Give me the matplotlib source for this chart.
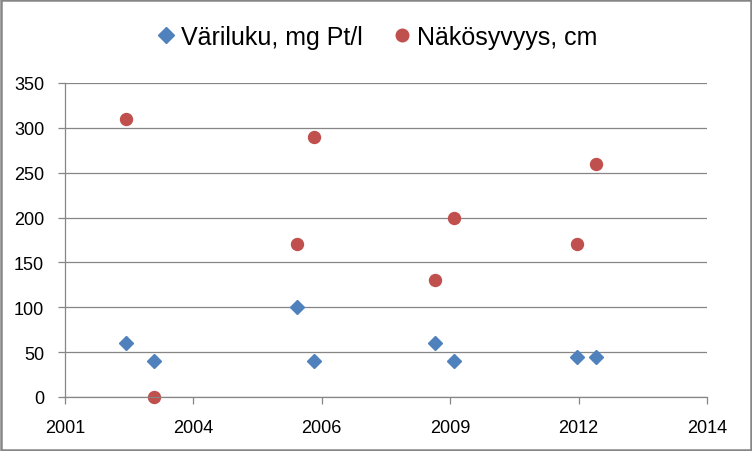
import datetime as dt
import matplotlib
matplotlib.use("Agg")
import matplotlib.pyplot as plt
import matplotlib.dates as mdates
from matplotlib.patches import Rectangle

# näytteenottopäivät ja arvot
paivat = ["2002-08-06", "2003-03-14", "2006-03-31", "2006-08-10",
          "2009-03-07", "2009-08-02", "2012-03-20", "2012-08-15"]
variluku = [60, 40, 100, 40, 60, 40, 45, 45]
nakosyvyys = [310, 0, 170, 290, 130, 200, 170, 260]

sarja1 = "Väriluku, mg Pt/l"
sarja2 = "Näkösyvyys, cm"

x = [dt.datetime.strptime(p, "%Y-%m-%d") for p in paivat]

plt.rcParams['font.family'] = ['Liberation Sans', 'DejaVu Sans']

fig = plt.figure(figsize=(7.52, 4.52), dpi=100)
ax = fig.add_axes([65 / 752, 1 - 398 / 452, (707 - 65) / 752, (398 - 84) / 452])

sininen = "#4F81BD"
punainen = "#C0504D"
harmaa = "#868686"

ax.plot(x, variluku, linestyle="none", marker="D", ms=7.6,
        color=sininen, mec=sininen, label=sarja1, clip_on=False)
ax.plot(x, nakosyvyys, linestyle="none", marker="o", ms=8.6,
        color=punainen, mec=punainen, label=sarja2, clip_on=False)

# akselit
alku = dt.datetime(2001, 4, 18)
loppu = alku + dt.timedelta(days=5000)
ax.set_xlim(alku, loppu)
ax.set_xticks([alku + dt.timedelta(days=1000 * k) for k in range(6)])
ax.xaxis.set_major_formatter(mdates.DateFormatter("%Y"))
ax.set_ylim(0, 350)
ax.set_yticks(range(0, 351, 50))

ax.grid(axis="y", color=harmaa, lw=0.9)
ax.set_axisbelow(True)
for s in ["top", "right"]:
    ax.spines[s].set_visible(False)
for s in ["left", "bottom"]:
    ax.spines[s].set_color(harmaa)
    ax.spines[s].set_linewidth(0.9)
ax.tick_params(axis="both", colors=harmaa, labelcolor="black",
               labelsize=13, length=5, width=0.9)
ax.tick_params(axis="y", pad=10)
ax.tick_params(axis="x", pad=11)

ax.legend(loc="center", bbox_to_anchor=(0.5, 1 - 38 / 452),
          bbox_transform=fig.transFigure, ncol=2, frameon=False,
          fontsize=18, handletextpad=0.15, columnspacing=1.15,
          handlelength=0.9, markerscale=1.05)

# kaavioalueen reunus
fig.patches.append(Rectangle((0.0015, 0.0025), 0.997, 0.995,
                             transform=fig.transFigure, fill=False,
                             edgecolor=harmaa, lw=1.8))

fig.savefig("out.png", dpi=100)
